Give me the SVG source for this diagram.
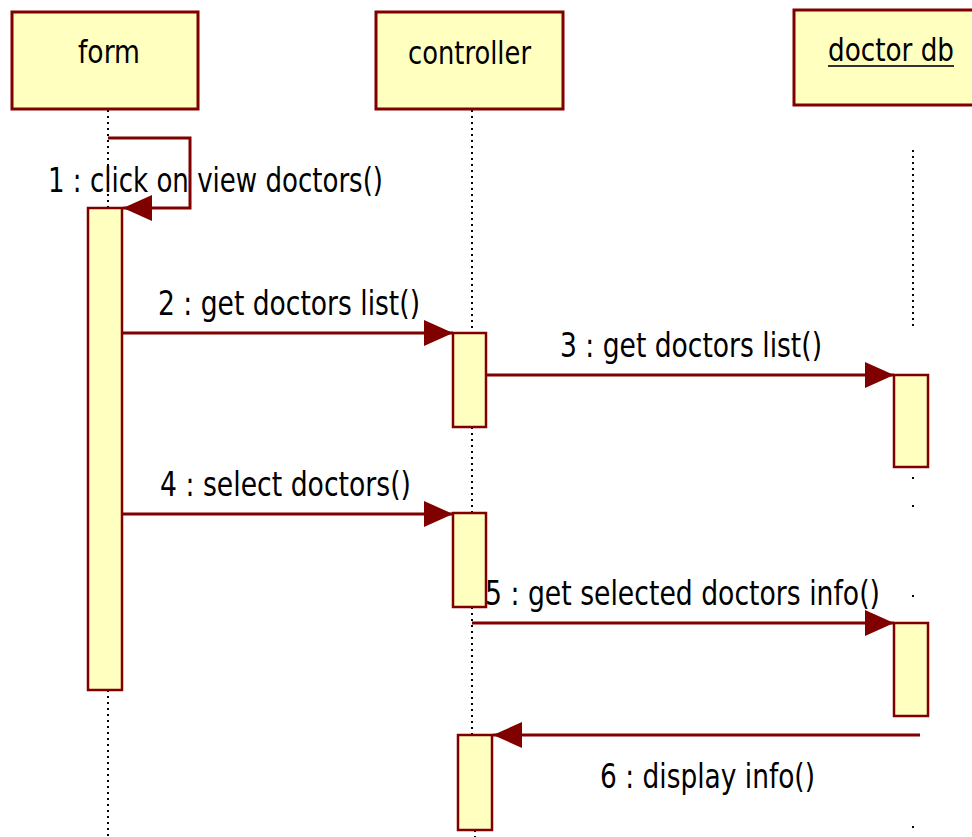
<svg xmlns="http://www.w3.org/2000/svg" width="972" height="837" viewBox="0 0 972 837">
  <style>
    .box { fill: #FFFFC0; stroke: #800000; stroke-width: 3; }
    .act { fill: #FFFFC0; stroke: #800000; stroke-width: 2.5; }
    .life { stroke: #000; stroke-width: 2; stroke-dasharray: 2 4; fill: none; }
    .msg { stroke: #800000; stroke-width: 3; fill: none; }
    .lbl { font-family: "DejaVu Sans", "Liberation Sans", sans-serif; font-size: 34px; fill: #000; }
    .name { font-family: "DejaVu Sans", "Liberation Sans", sans-serif; font-size: 32px; fill: #000; }
  </style>
  <defs>
    <marker id="arrow" markerUnits="userSpaceOnUse" markerWidth="30" markerHeight="26" refX="29" refY="13" orient="auto">
      <path d="M0,0 L29,13 L0,26 Z" fill="#800000"/>
    </marker>
  </defs>
  <rect width="972" height="837" fill="#fff"/>

  <!-- lifelines -->
  <g id="lifelines">
    <line class="life" x1="108" y1="110" x2="108" y2="208"/>
    <line class="life" x1="108" y1="690" x2="108" y2="837"/>
    <line class="life" x1="472" y1="110" x2="472" y2="333"/>
    <line class="life" x1="472" y1="427" x2="472" y2="513"/>
    <line class="life" x1="472" y1="607" x2="472" y2="735"/>
    <line class="life" x1="475" y1="830" x2="475" y2="837"/>
    <line class="life" x1="913" y1="150" x2="913" y2="326"/>
    <line class="life" x1="913" y1="477" x2="913" y2="480"/>
    <line class="life" x1="913" y1="505" x2="913" y2="508"/>
    <line class="life" x1="913" y1="595" x2="913" y2="598"/>
    <line class="life" x1="913" y1="826" x2="913" y2="829"/>
  </g>

  <!-- objects -->
  <g id="form">
    <rect class="box" x="12" y="12" width="186" height="97"/>
    <text class="name" x="78" y="63" textLength="62" lengthAdjust="spacingAndGlyphs">form</text>
  </g>
  <g id="controller">
    <rect class="box" x="376" y="12" width="187" height="97"/>
    <text class="name" x="408" y="64" textLength="123" lengthAdjust="spacingAndGlyphs">controller</text>
  </g>
  <g id="doctor-db">
    <rect class="box" x="794" y="10" width="180" height="95"/>
    <text class="name" x="828" y="61" textLength="126" lengthAdjust="spacingAndGlyphs">doctor db</text>
    <line x1="828" y1="66" x2="954" y2="66" stroke="#333" stroke-width="2"/>
  </g>

  <!-- activations -->
  <g id="form-activation">
    <rect class="act" x="88" y="208" width="34" height="482"/>
  </g>
  <g id="controller-activation-1">
    <rect class="act" x="453" y="333" width="33" height="94"/>
  </g>
  <g id="controller-activation-2">
    <rect class="act" x="453" y="513" width="33" height="94"/>
  </g>
  <g id="controller-activation-3">
    <rect class="act" x="458" y="735" width="34" height="95"/>
  </g>
  <g id="db-activation-1">
    <rect class="act" x="894" y="375" width="34" height="92"/>
  </g>
  <g id="db-activation-2">
    <rect class="act" x="894" y="623" width="34" height="93"/>
  </g>

  <!-- messages -->
  <g id="connectors">
    <path class="msg" d="M108,138 H190 V208 H123" marker-end="url(#arrow)"/>
    <line class="msg" x1="122" y1="333" x2="453" y2="333" marker-end="url(#arrow)"/>
    <line class="msg" x1="486" y1="375" x2="894" y2="375" marker-end="url(#arrow)"/>
    <line class="msg" x1="122" y1="514" x2="453" y2="514" marker-end="url(#arrow)"/>
    <line class="msg" x1="472" y1="623" x2="894" y2="623" marker-end="url(#arrow)"/>
    <line class="msg" x1="920" y1="735" x2="493" y2="735" marker-end="url(#arrow)"/>
  </g>

  <!-- message labels -->
  <g id="labels">
    <text class="lbl" x="48" y="192" textLength="335" lengthAdjust="spacingAndGlyphs">1 : click on view doctors()</text>
    <text class="lbl" x="158" y="315" textLength="262" lengthAdjust="spacingAndGlyphs">2 : get doctors list()</text>
    <text class="lbl" x="560" y="357" textLength="262" lengthAdjust="spacingAndGlyphs">3 : get doctors list()</text>
    <text class="lbl" x="160" y="496" textLength="251" lengthAdjust="spacingAndGlyphs">4 : select doctors()</text>
    <text class="lbl" x="485" y="605" textLength="395" lengthAdjust="spacingAndGlyphs">5 : get selected doctors info()</text>
    <text class="lbl" x="600" y="788" textLength="215" lengthAdjust="spacingAndGlyphs">6 : display info()</text>
  </g>
</svg>
